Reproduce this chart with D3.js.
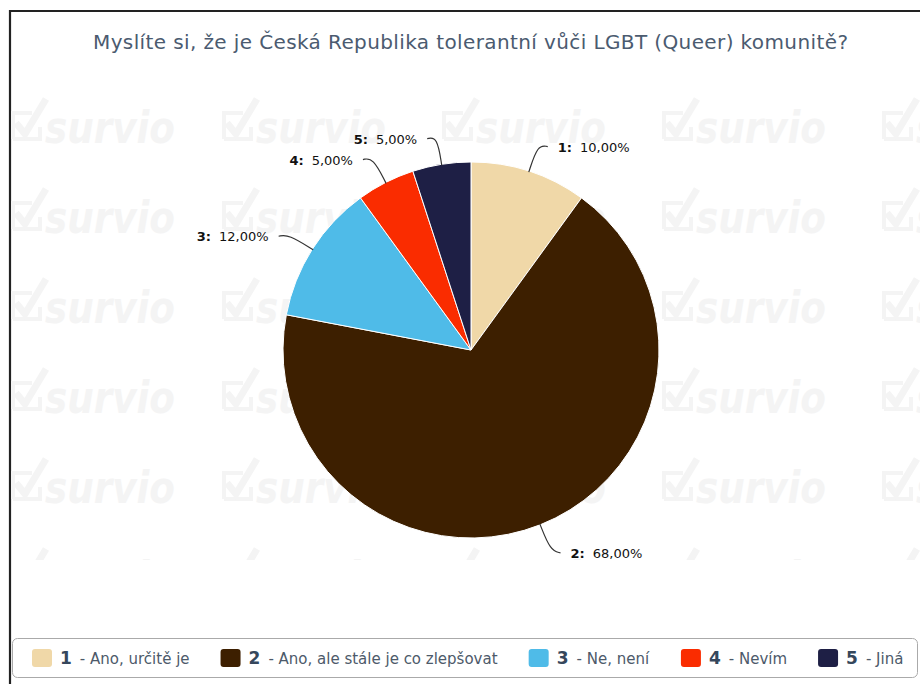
<!DOCTYPE html>
<html>
<head>
<meta charset="utf-8">
<script src="https://cdn.jsdelivr.net/npm/d3@7"></script>
<style>
  body { margin: 0; background: #fff; }
  svg { display: block; }
</style>
</head>
<body>
<svg id="chart" width="920" height="684"></svg>
<script>
const title = "Myslíte si, že je Česká Republika tolerantní vůči LGBT (Queer) komunitě?";
const categories = ["1", "2", "3", "4", "5"];
const answers = ["Ano, určitě je", "Ano, ale stále je co zlepšovat", "Ne, není", "Nevím", "Jiná"];
const values = [10, 68, 12, 5, 5];
const colors = ["#f0d8a8", "#3d1f00", "#4fbbe8", "#fa2c00", "#1e1f45"];

const width = 920, height = 684;
const cx = 471, cy = 350, radius = 188;

const svg = d3.select("#chart");

// frame
svg.append("path")
  .attr("d", `M10,${height + 5} L10,11 L${width + 5},11`)
  .attr("fill", "none")
  .attr("stroke", "#222")
  .attr("stroke-width", 2.2);

// watermark (clipped like the original)
svg.append("clipPath").attr("id", "wmclip")
  .append("rect").attr("x", 11).attr("y", 90).attr("width", 909).attr("height", 470);
const wm = svg.append("g").attr("clip-path", "url(#wmclip)");
const wmCols = [10, 221, 441, 661, 881];
const wmRows = [143, 233, 323, 413, 503, 593];
const wmColor = "#f4f4f4";
wmRows.forEach(y => {
  wmCols.forEach(x => {
    const t = wm.append("g").attr("transform", `translate(${x},${y})`);
    t.append("path")
      .attr("d", "M3,-4 L3,-30 L22,-30 M3,-4 L30,-4 L30,-16")
      .attr("fill", "none").attr("stroke", wmColor).attr("stroke-width", 4);
    t.append("path")
      .attr("d", "M6,-20 L15,-9 L36,-44")
      .attr("fill", "none").attr("stroke", wmColor).attr("stroke-width", 7);
    t.append("text")
      .attr("x", 35).attr("y", 0)
      .attr("font-family", "DejaVu Sans")
      .attr("font-weight", "bold")
      .attr("font-style", "italic")
      .attr("font-size", 44)
      .attr("textLength", 130)
      .attr("lengthAdjust", "spacingAndGlyphs")
      .attr("fill", wmColor)
      .text("survio");
  });
});

// title
svg.append("text")
  .attr("x", 93).attr("y", 49)
  .attr("font-family", "DejaVu Sans")
  .attr("font-size", 20)
  .attr("textLength", 755)
  .attr("lengthAdjust", "spacing")
  .attr("fill", "#4b5b70")
  .text(title);

// pie
const data = categories.map((c, i) => ({cat: c, answer: answers[i], value: values[i], color: colors[i]}));
const pie = d3.pie().value(d => d.value).sort(null);
const arcs = pie(data);
const arc = d3.arc().innerRadius(0).outerRadius(radius);

const g = svg.append("g").attr("transform", `translate(${cx},${cy})`);

g.selectAll("path.slice")
  .data(arcs)
  .join("path")
  .attr("class", "slice")
  .attr("d", arc)
  .attr("fill", d => d.data.color)
  .attr("stroke", "#fff")
  .attr("stroke-width", 1);

// labels with connectors
const fmt = v => v.toFixed(2).replace(".", ",") + "%";
arcs.forEach(d => {
  const a = (d.startAngle + d.endAngle) / 2;
  const sx = Math.sin(a), sy = -Math.cos(a);
  const right = sx >= 0;
  const p0 = [sx * (radius - 1), sy * (radius - 1)];
  const p1 = [sx * (radius + 28), sy * (radius + 28)];
  const p2 = [p1[0] + (right ? 10 : -10), p1[1] + 2];
  const line = d3.line().curve(d3.curveBasis);
  g.append("path")
    .attr("d", line([p0, p0, p1, p2, p2]))
    .attr("fill", "none")
    .attr("stroke", "#333")
    .attr("stroke-width", 1.2);

  const t = g.append("text")
    .attr("x", p2[0] + (right ? 10 : -10))
    .attr("y", p2[1] + 5)
    .attr("text-anchor", right ? "start" : "end")
    .attr("font-family", "DejaVu Sans")
    .attr("font-size", 13)
    .attr("fill", "#111");
  t.append("tspan").attr("font-weight", "bold").text(d.data.cat + ":");
  t.append("tspan").attr("dx", 8).text(fmt(d.data.value));
});

// legend
const legend = svg.append("g");
legend.append("rect")
  .attr("x", 12.5).attr("y", 638.5)
  .attr("width", 905).attr("height", 39)
  .attr("rx", 5)
  .attr("fill", "#fff")
  .attr("stroke", "#aaa");

let lx = 32;
data.forEach(d => {
  const item = legend.append("g").attr("transform", `translate(${lx},0)`);
  item.append("rect")
    .attr("x", 0).attr("y", 649)
    .attr("width", 20).attr("height", 18)
    .attr("rx", 3)
    .attr("fill", d.color);
  const t = item.append("text")
    .attr("x", 28).attr("y", 664)
    .attr("font-family", "DejaVu Sans")
    .attr("font-size", 15)
    .attr("fill", "#4d5a6a");
  t.append("tspan").attr("font-weight", "bold").attr("fill", "#35475c").attr("font-size", 17).text(d.cat);
  t.append("tspan").attr("dx", 8).text("- " + d.answer);
  const w = t.node().getBBox().width;
  lx += 28 + w + 31;
});
</script>
</body>
</html>
